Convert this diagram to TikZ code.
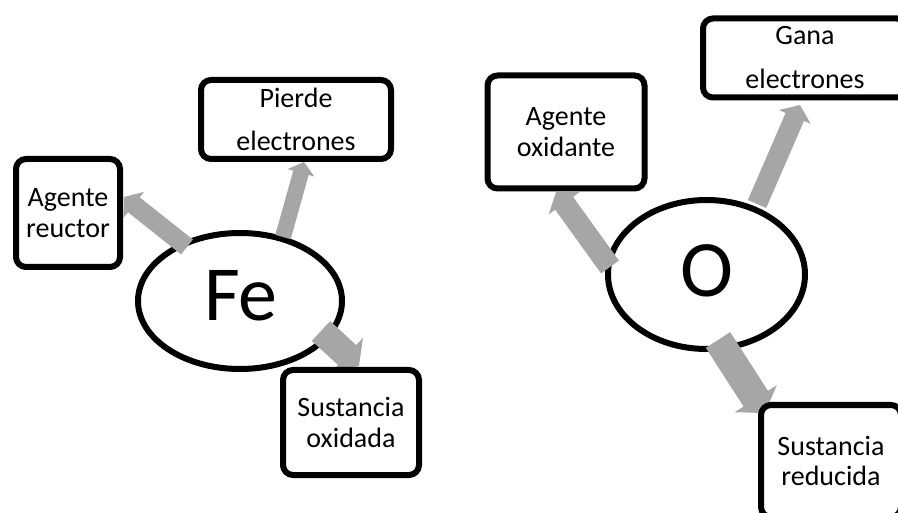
\documentclass[tikz,border=0pt]{standalone}
\usepackage{fontspec}
\setmainfont{Carlito}
\usetikzlibrary{arrows.meta,shapes.geometric,shadows}
\definecolor{arrgray}{HTML}{A6A6A6}
\begin{document}
\begin{tikzpicture}[x=1pt,y=-1pt,
  box/.style={draw=black, line width=6pt, rounded corners=10pt, fill=white, align=center, inner sep=0pt,
    font=\fontsize{28}{30.5}\selectfont,
    drop shadow={opacity=0.18, shadow xshift=1.5pt, shadow yshift=-2.5pt}},
  ell/.style={ellipse, draw=black, line width=6pt, fill=white, inner sep=0pt},
  bigarrow/.style={draw=arrgray, line width=#1, -{Triangle[width=0pt 1.7, length=4pt 0.45]}},
]
\useasboundingbox (0,0) rectangle (898,513);
\clip (0,0) rectangle (898,513);

% central ellipses
\node[ell, minimum width=204pt, minimum height=136pt] (fe) at (240,301) {};
\node[font=\fontsize{78}{80}\selectfont] (fet) at (241,296) {Fe};
\node[ell, minimum width=197pt, minimum height=149pt] (ox) at (706.5,274.5) {};
\node[font=\fontsize{80}{80}\selectfont] (oxt) at (707,271) {O};

% arrow end points
\coordinate (fe1) at (187,247); \coordinate (ar1) at (124,197);
\coordinate (fe2) at (283,237); \coordinate (pe1) at (304,162);
\coordinate (fe3) at (321,331); \coordinate (so1) at (359,366);
\coordinate (ox1) at (610,267); \coordinate (ao1) at (556,192);
\coordinate (ox2) at (757,204); \coordinate (ge1) at (800,105);
\coordinate (ox3) at (718,340); \coordinate (sr1) at (765,413);

% arrows
\draw[bigarrow=19pt] (fe1) -- (ar1);
\draw[bigarrow=16pt] (fe2) -- (pe1);
\draw[bigarrow=27pt] (fe3) -- (so1);
\draw[bigarrow=22pt] (ox1) -- (ao1);
\draw[bigarrow=20pt] (ox2) -- (ge1);
\draw[bigarrow=29pt] (ox3) -- (sr1);

% boxes
\node[box, minimum width=104pt, minimum height=108pt] (ar) at (68,213) {Agente\\reuctor};
\node[box, minimum width=190pt, minimum height=79pt, font=\fontsize{28}{43}\selectfont] (pe) at (296,119.5) {Pierde\\electrones};
\node[box, minimum width=136pt, minimum height=105pt] (so) at (351,422.5) {Sustancia\\oxidada};
\node[box, minimum width=157pt, minimum height=113pt] (ao) at (566,132) {Agente\\oxidante};
\node[box, minimum width=204pt, minimum height=79pt, font=\fontsize{28}{44}\selectfont] (ge) at (805,58) {Gana\\electrones};
\node[box, minimum width=140pt, minimum height=112pt] (sr) at (831,461) {Sustancia\\reducida};
\end{tikzpicture}
\end{document}
